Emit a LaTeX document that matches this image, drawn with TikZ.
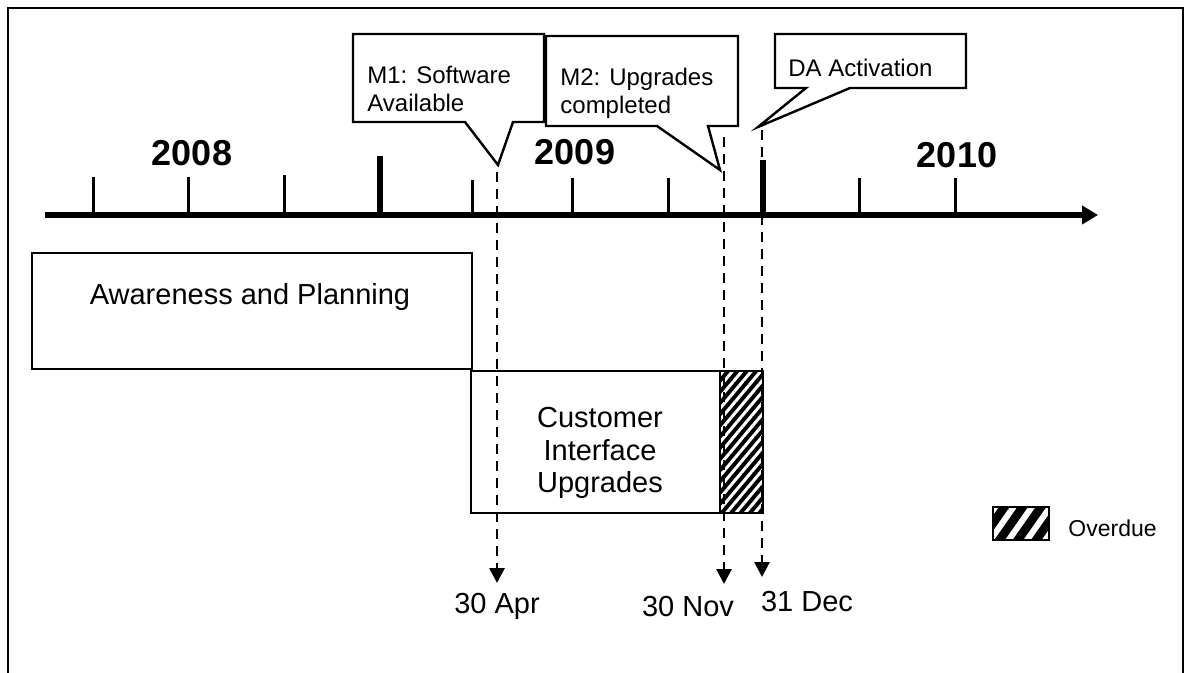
\documentclass[tikz,border=0pt]{standalone}
\usepackage{fontspec}
\setmainfont{Liberation Sans}
\usetikzlibrary{arrows.meta, patterns.meta}
\tikzstyle{pageframe} = [line width=1pt]
\tikzstyle{timeaxis} = [line width=2.8pt, -{Triangle[length=8pt, width=9pt]}]
\tikzstyle{minortick} = [line width=1.5pt]
\tikzstyle{majortick} = [line width=2.6pt]
\tikzstyle{yeartext} = [inner sep=0pt, font=\fontsize{18}{20}\selectfont\bfseries]
\tikzstyle{calloutbox} = [draw=black, fill=white, line width=1.2pt, line join=miter]
\tikzstyle{notetext} = [anchor=north west, align=left, inner sep=0pt, font=\fontsize{12}{13.7}\selectfont]
\tikzstyle{phasebox} = [draw=black, line width=1pt]
\tikzstyle{phasetext} = [anchor=north, align=center, inner sep=0pt, font=\fontsize{14.5}{16.3}\selectfont]
\tikzstyle{hatch} = [draw=black, line width=1pt, preaction={fill=black}, pattern={Lines[angle=50, distance=3.6pt, line width=1.5pt]}, pattern color=white]
\tikzstyle{widehatch} = [draw=black, line width=1pt, preaction={fill=black}, pattern={Lines[angle=55, distance=7.5pt, line width=3pt]}, pattern color=white]
\tikzstyle{milestone} = [line width=1.4pt, dash pattern=on 5pt off 3.5pt, -{Triangle[length=7.5pt, width=7.5pt]}]
\tikzstyle{datetext} = [anchor=north, inner sep=0pt, font=\fontsize{14.5}{17}\selectfont]
\tikzstyle{legendtext} = [anchor=west, inner sep=0pt, font=\fontsize{11.5}{13}\selectfont]

\begin{document}
\begin{tikzpicture}[x=0.5pt, y=-0.5pt]
\useasboundingbox (0,0) rectangle (1192,673);
\draw [pageframe] (8,673) -- (8,8) -- (1183,8) -- (1183,673);

% time axis with quarter ticks
\coordinate (axisstart) at (45,215);
\coordinate (axisend) at (1098,215);
\draw [timeaxis] (axisstart) -- (axisend);
\draw [minortick] (93,215) -- (93,177);
\draw [minortick] (188,215) -- (188,177);
\draw [minortick] (284,215) -- (284,175);
\draw [majortick] (380,215) -- (380,156);
\draw [minortick] (472,215) -- (472,180);
\draw [minortick] (572,215) -- (572,178);
\draw [minortick] (668,215) -- (668,178);
\draw [majortick] (763,215) -- (763,160);
\draw [minortick] (859,215) -- (859,178);
\draw [minortick] (955,215) -- (955,178);
\node (y2008) [yeartext] at (192,153) {2008};
\node (y2009) [yeartext] at (575,152) {2009};
\node (y2010) [yeartext] at (957,155) {2010};

% phases
\draw [phasebox] (32,253) rectangle (472,369);
\node (planning) [phasetext] at (250,283) {Awareness and Planning};
\draw [phasebox] (471,371) rectangle (720,513);
\node (upgrades) [phasetext] at (600,407) {Customer\\Interface\\Upgrades};
\draw [hatch] (720,371) rectangle (763,513);

% milestone callouts
\draw [calloutbox] (353,34) -- (544,34) -- (544,122) -- (513,122) -- (498,165) -- (465,122) -- (353,122) -- cycle;
\node (m1) [notetext] at (367,66) {M1: Software\\Available};
\draw [calloutbox] (546,36) -- (738,36) -- (738,126) -- (708,126) -- (720,170) -- (657,126) -- (546,126) -- cycle;
\node (m2) [notetext] at (560,68) {M2: Upgrades\\completed};
\draw [calloutbox] (775,34) -- (966,34) -- (966,88) -- (850,88) -- (758,127) -- (806,88) -- (775,88) -- cycle;
\node (da) [notetext] at (788,59) {DA Activation};

% dates
\coordinate (m1tip) at (497,172);
\coordinate (m2tip) at (724,137);
\coordinate (datip) at (762,130);
\node (apr) [datetext, inner ysep=5pt] at (497,583) {30 Apr};
\node (nov) [datetext, inner ysep=6pt] at (688,584) {30 Nov};
\node (dec) [datetext, inner ysep=7pt] at (807,577) {31 Dec};
\draw [milestone] (m1tip) -- (apr.north);
\draw [milestone] (m2tip) -- (m2tip |- nov.north);
\draw [milestone] (datip) -- (datip |- dec.north);

% legend
\draw [widehatch] (993,507) rectangle (1049,540);
\node (overdue) [legendtext] at (1068,528) {Overdue};
\end{tikzpicture}
\end{document}
